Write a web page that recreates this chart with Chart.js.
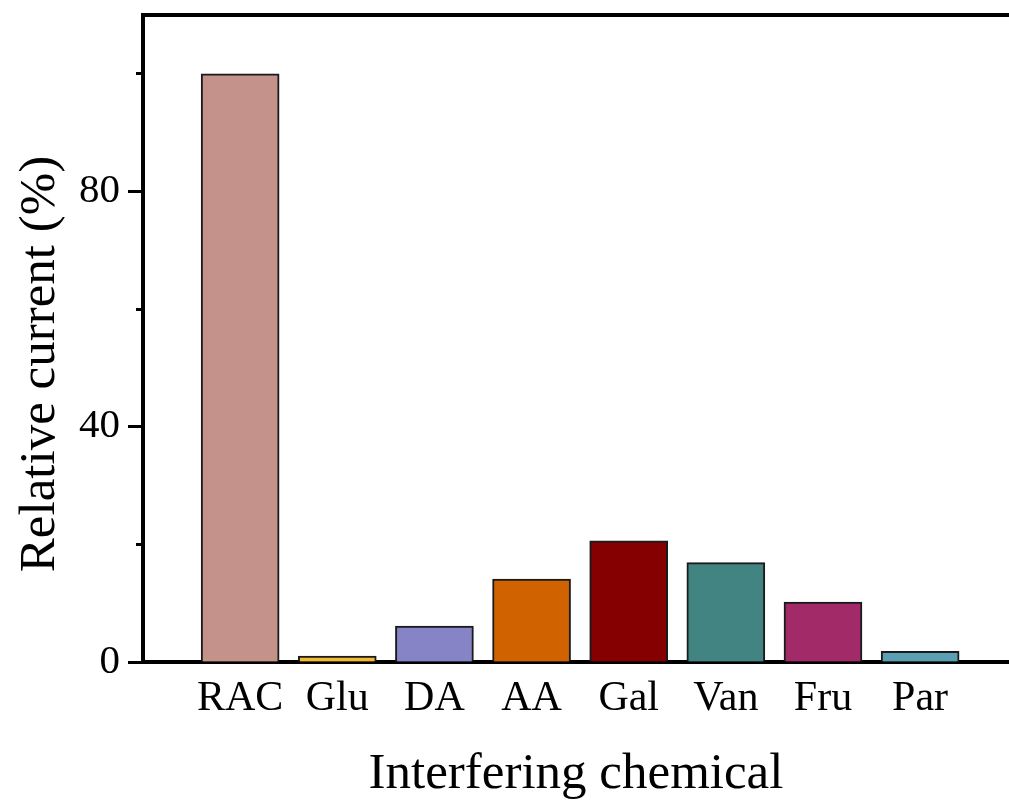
<!DOCTYPE html>
<html>
<head>
<meta charset="utf-8">
<script src="https://cdn.jsdelivr.net/npm/chart.js@4.4.1/dist/chart.umd.min.js"></script>
<style>
html,body{margin:0;padding:0;background:#fff;overflow:hidden;}
#wrap{width:1009px;height:800px;position:relative;}
</style>
</head>
<body>
<div id="wrap"><canvas id="c" width="1009" height="800"></canvas></div>
<script>
const categories = ['RAC', 'Glu', 'DA', 'AA', 'Gal', 'Van', 'Fru', 'Par'];
const values = [100, 1.0, 6.1, 14.1, 20.6, 16.9, 10.2, 1.8];
const barColors = ['#C4918B', '#F2B936', '#8684C6', '#D06300', '#850000', '#428481', '#A32A68', '#5A9FB2'];
const yTicks = [0, 20, 40, 60, 80, 100];
const yLabeled = [0, 40, 80];

const serif = "'Liberation Serif', 'Times New Roman', serif";

const topBorder = {
  id: 'topBorder',
  afterDraw(chart) {
    const {ctx, chartArea} = chart;
    ctx.save();
    ctx.strokeStyle = '#000';
    ctx.lineWidth = 4;
    ctx.beginPath();
    ctx.moveTo(chartArea.left - 2, chartArea.top);
    ctx.lineTo(chartArea.right + 2, chartArea.top);
    ctx.stroke();
    ctx.restore();
  }
};

new Chart(document.getElementById('c'), {
  type: 'bar',
  data: {
    datasets: [{
      data: values.map((v, i) => ({x: i + 1, y: v})),
      backgroundColor: barColors,
      borderColor: '#1a1a1a',
      borderWidth: 2,
      borderSkipped: 'bottom',
      barThickness: 78
    }]
  },
  options: {
    responsive: false,
    animation: false,
    layout: {padding: {top: 15, right: 0, bottom: 0, left: 0}},
    plugins: {legend: {display: false}, tooltip: {enabled: false}},
    scales: {
      x: {
        type: 'linear',
        offset: false,
        min: 0,
        max: 8.915,
        afterFit(s) { s.height = 138; s.paddingLeft = 0; s.paddingRight = 0; },
        afterBuildTicks(s) { s.ticks = categories.map((c, i) => ({value: i + 1})); },
        grid: {display: false, drawTicks: false, tickLength: 0, offset: false},
        border: {display: true, color: '#000', width: 4},
        ticks: {
          autoSkip: false,
          maxRotation: 0,
          padding: 12,
          color: '#000',
          font: {family: serif, size: 42},
          callback: (v) => categories[Math.round(v) - 1] || ''
        },
        title: {
          display: true,
          text: 'Interfering chemical',
          color: '#000',
          font: {family: serif, size: 51, lineHeight: 1.0},
          padding: {top: 0, bottom: 0}
        }
      },
      y: {
        min: 0,
        max: 110,
        afterFit(s) { s.width = 143; s.paddingTop = 0; s.paddingBottom = 0; },
        afterBuildTicks(s) { s.ticks = yTicks.map(v => ({value: v})); },
        grid: {
          drawOnChartArea: false,
          drawTicks: true,
          tickLength: 15,
          tickWidth: 3,
          tickColor: '#000',
          tickBorderDash: (ctx) => (ctx.tick && yLabeled.includes(ctx.tick.value)) ? [] : [0, 8, 8, 100]
        },
        border: {display: true, color: '#000', width: 4},
        ticks: {
          padding: 8,
          color: '#000',
          font: {family: serif, size: 41},
          callback: (v) => yLabeled.includes(v) ? String(v) : ''
        },
        title: {
          display: true,
          text: 'Relative current (%)\u00a0\u00a0\u00a0\u00a0',
          color: '#000',
          font: {family: serif, size: 51, lineHeight: 1.0},
          padding: {top: 15, bottom: 0}
        }
      }
    }
  },
  plugins: [topBorder]
});
</script>
</body>
</html>
